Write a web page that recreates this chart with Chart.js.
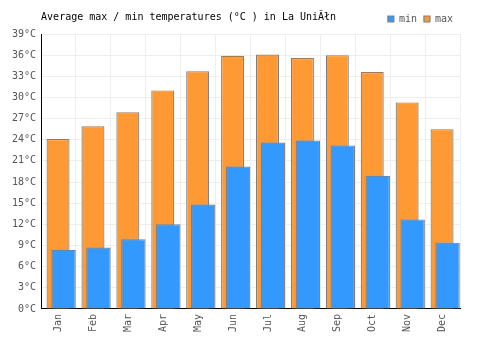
<!DOCTYPE html>
<html lang="en">

<head>
    <meta charset="UTF-8">
    <script src="https://cdn.jsdelivr.net/npm/chart.js"></script>
    <title>La Union temperatures</title>
    <style>
        body {
            margin: 0;
            background: #fff;
        }

        .wrap {
            width: 500px;
            height: 350px;
        }
    </style>
</head>

<body>
    <div class="wrap">
        <canvas id="tempChart" width="500" height="350"></canvas>
    </div>
    <script>
        const months = ['Jan', 'Feb', 'Mar', 'Apr', 'May', 'Jun', 'Jul', 'Aug', 'Sep', 'Oct', 'Nov', 'Dec'];
        const minTemps = [8.4, 8.7, 9.9, 12.0, 14.8, 20.2, 23.6, 23.9, 23.2, 18.9, 12.7, 9.4];
        const maxTemps = [24.1, 25.9, 27.9, 31.0, 33.7, 35.9, 36.1, 35.6, 36.0, 33.6, 29.3, 25.5];
        const yTicks = [0, 3, 6, 9, 12, 15, 18, 21, 24, 27, 30, 33, 36, 39];

        const mono = 'DejaVu Sans Mono';

        // max bar sits behind, min bar in front and shifted right
        // (negative percentages flip the group so the front bar lands on the right)
        const ctx = document.getElementById('tempChart').getContext('2d');
        const tempChart = new Chart(ctx, {
            type: 'bar',
            data: {
                labels: months,
                datasets: [{
                    label: 'min',
                    data: minTemps,
                    backgroundColor: '#3399ff',
                    borderColor: '#808080',
                    borderWidth: 1.2,
                    order: 0,
                    categoryPercentage: -0.5727,
                    barPercentage: -2.45
                }, {
                    label: 'max',
                    data: maxTemps,
                    backgroundColor: '#ff9933',
                    borderColor: '#808080',
                    borderWidth: 1.2,
                    order: 1,
                    categoryPercentage: -0.0573,
                    barPercentage: -23
                }]
            },
            options: {
                responsive: false,
                animation: false,
                layout: {
                    padding: { left: 7, right: 40, bottom: 13 }
                },
                plugins: {
                    title: {
                        display: true,
                        fullSize: false,
                        text: 'Average max / min temperatures (°C ) in La UniĂłn',
                        align: 'start',
                        color: '#000',
                        font: { family: mono, size: 10, weight: 'normal' },
                        padding: { top: 11, bottom: -16 }
                    },
                    legend: {
                        position: 'top',
                        align: 'end',
                        labels: {
                            boxWidth: 6,
                            boxHeight: 6,
                            padding: 7,
                            color: '#555',
                            font: { family: mono, size: 10 }
                        }
                    },
                    tooltip: { enabled: false }
                },
                scales: {
                    x: {
                        grid: {
                            color: '#eeeeee',
                            drawTicks: false,
                            offset: true
                        },
                        border: { color: '#000', width: 1 },
                        ticks: {
                            color: '#555',
                            font: { family: mono, size: 10 },
                            minRotation: 90,
                            maxRotation: 90,
                            padding: 5
                        }
                    },
                    y: {
                        min: 0,
                        max: 39,
                        afterBuildTicks: function (scale) {
                            scale.ticks = yTicks.map(v => ({ value: v }));
                        },
                        grid: {
                            color: '#eeeeee',
                            drawTicks: false
                        },
                        border: { color: '#000', width: 1 },
                        ticks: {
                            color: '#555',
                            font: { family: mono, size: 10 },
                            padding: 5,
                            callback: function (value) {
                                return value + '°C';
                            }
                        }
                    }
                }
            }
        });
    </script>
</body>

</html>
